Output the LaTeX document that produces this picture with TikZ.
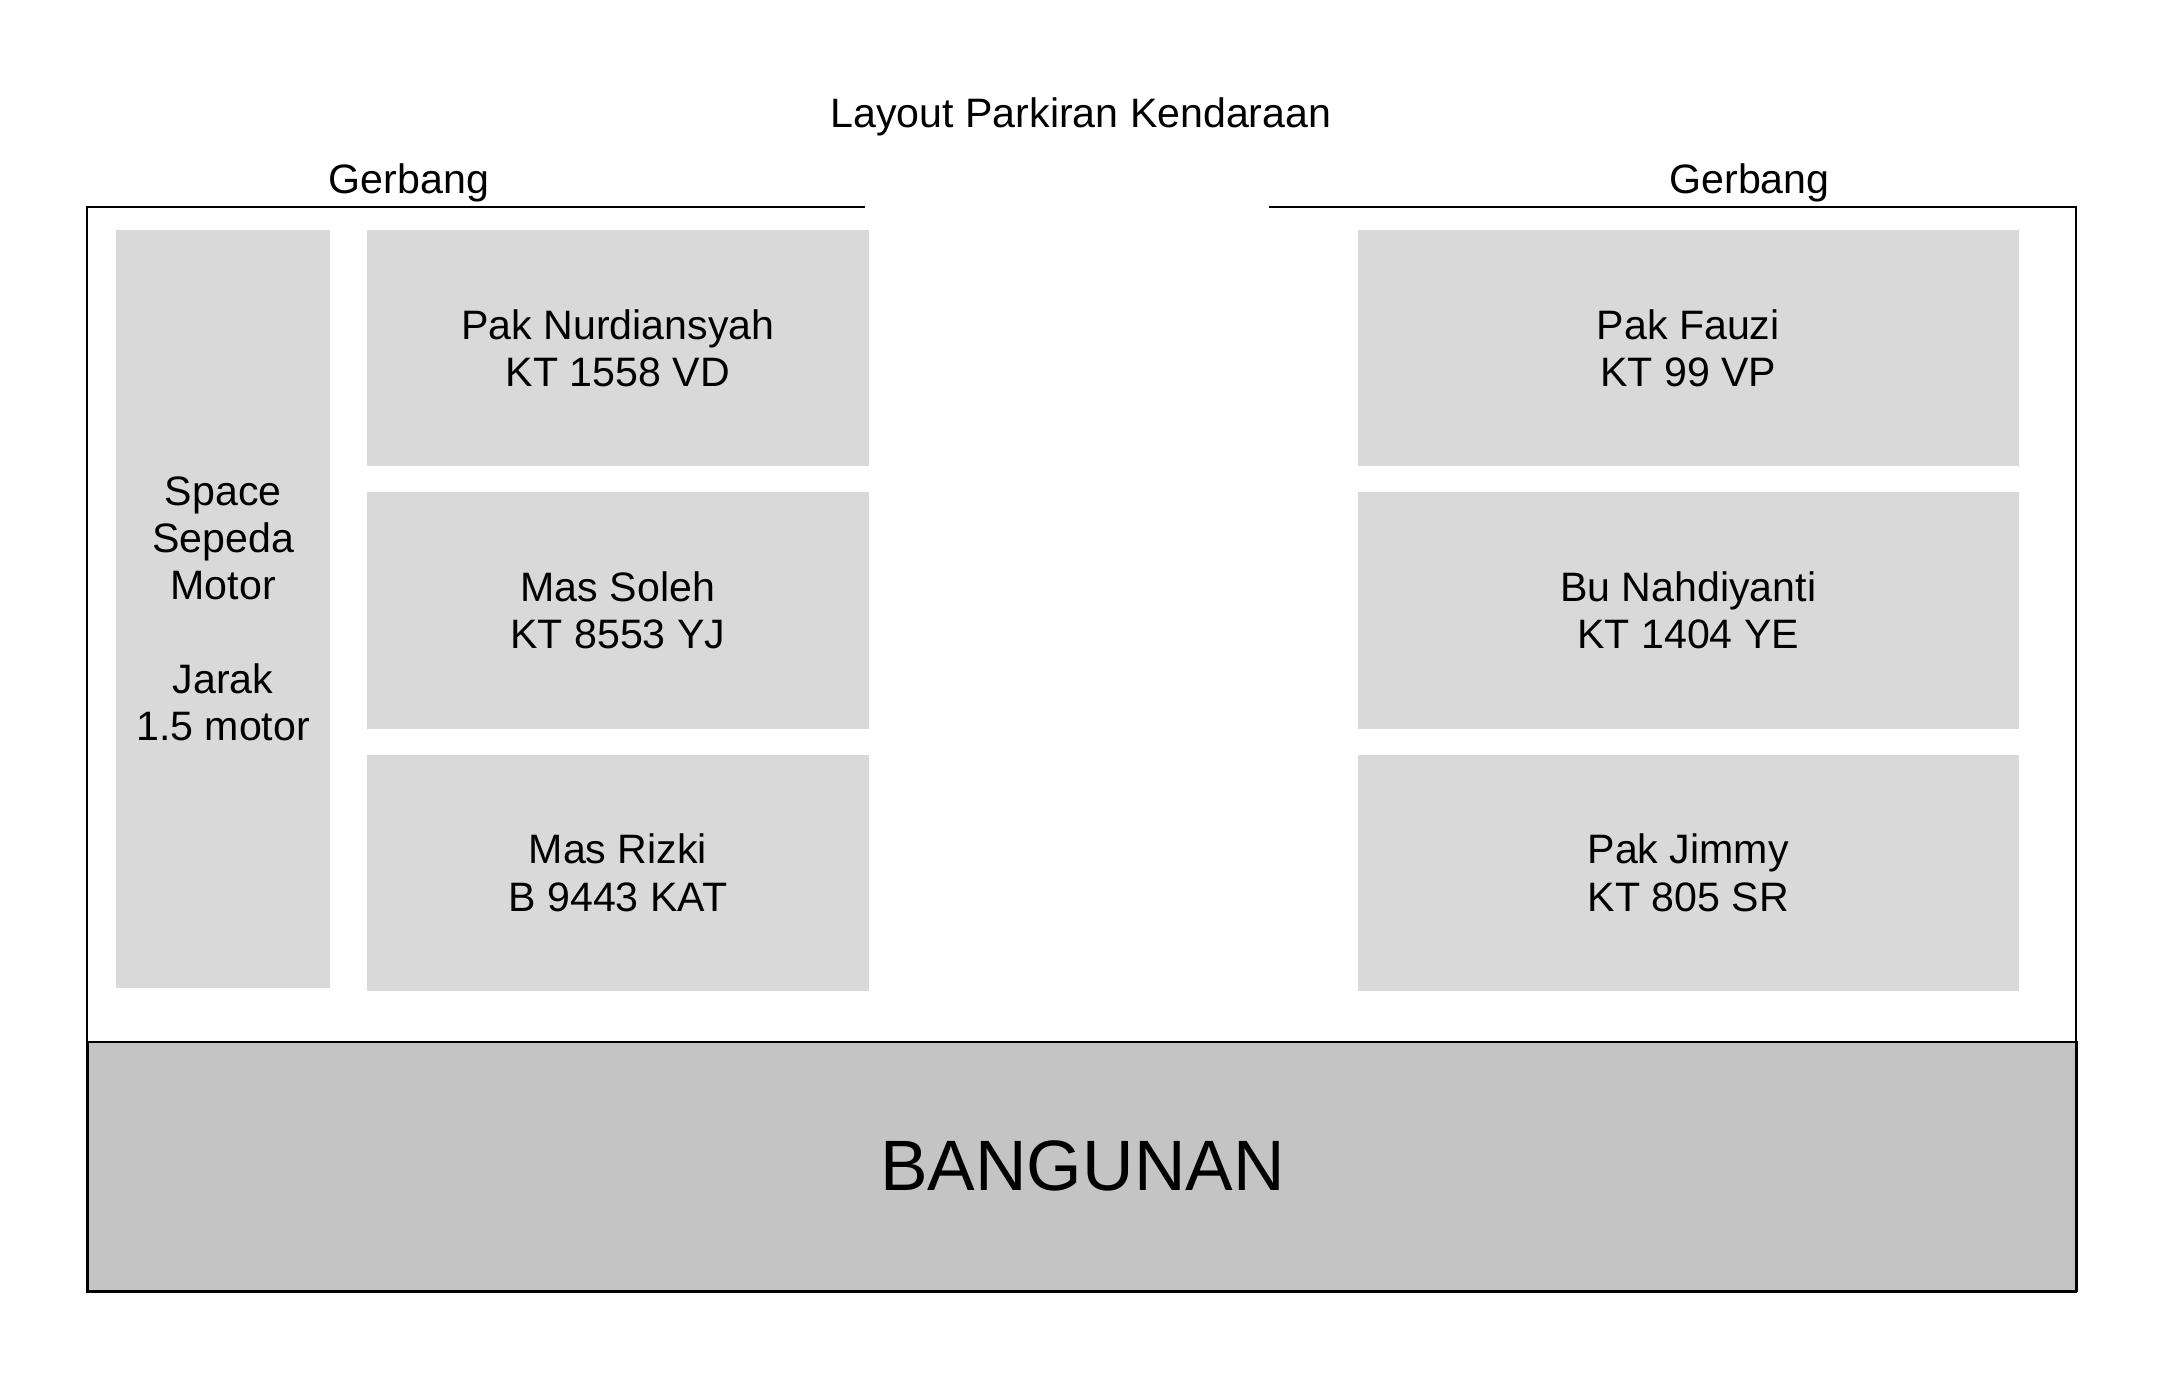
\documentclass[tikz,border=0pt]{standalone}
\usepackage{fontspec}
\setmainfont{Liberation Sans}
\usetikzlibrary{positioning}
\usepackage{xcolor}
\definecolor{slotgray}{HTML}{D9D9D9}
\definecolor{buildgray}{HTML}{C4C4C4}

\begin{document}
\begin{tikzpicture}[
  font=\fontsize{11.7}{13.4}\selectfont,
  node distance=0.245cm,
  slot/.style={fill=slotgray, minimum width=5.015cm, minimum height=2.365cm,
               inner sep=0pt, align=center},
  slotwide/.style={slot, minimum width=6.61cm},
  motorbox/.style={fill=slotgray, minimum width=2.135cm, minimum height=7.585cm,
                   inner sep=0pt, align=center},
  building/.style={draw=black, line width=0.6pt, fill=buildgray,
                   minimum width=19.892cm, minimum height=2.492cm, inner sep=0pt,
                   font=\fontsize{20.3}{24}\selectfont},
  wall/.style={draw=black, line width=0.6pt},
]
\useasboundingbox (0,0) rectangle (21.6,13.83);

% ---- Title and gates ----
\node (title) at (10.81,12.66) {Layout Parkiran Kendaraan};
\node (gateL) at (4.09,12.00) {Gerbang};
\node (gateR) at (17.495,12.00) {Gerbang};

% ---- Yard outline ----
\coordinate (yardNW) at (0.868,11.764);
\coordinate (yardSW) at (0.868,0.91);
\coordinate (yardSE) at (20.76,0.91);
\coordinate (yardNE) at (20.76,11.764);
\coordinate (gapL) at (8.65,11.764);
\coordinate (gapR) at (12.688,11.764);

% ---- Building ----
\node[building, anchor=south west] (bangunan) at (yardSW) {BANGUNAN};

\draw[wall] (gapL) -- (yardNW) -- (yardSW) -- (yardSE) -- (yardNE) -- (gapR);

% ---- Motorbike space ----
\node[motorbox, anchor=north west] (motor) at (1.157,11.54) {%
  Space\\Sepeda\\Motor\\[13.4pt]Jarak\\1.5 motor};

% ---- Left column ----
\node[slot, anchor=north west] (nurdi) at ([xshift=0.358cm]motor.north east)
  {Pak Nurdiansyah\\KT 1558 VD};
\node[slot, below=of nurdi] (soleh) {Mas Soleh\\KT 8553 YJ};
\node[slot, below=of soleh] (rizki) {Mas Rizki\\B 9443 KAT};

% ---- Right column ----
\node[slotwide, anchor=north west] (fauzi) at (13.57,11.54) {Pak Fauzi\\KT 99 VP};
\node[slotwide, below=of fauzi] (nahdi) {Bu Nahdiyanti\\KT 1404 YE};
\node[slotwide, below=of nahdi] (jimmy) {Pak Jimmy\\KT 805 SR};

\end{tikzpicture}
\end{document}
